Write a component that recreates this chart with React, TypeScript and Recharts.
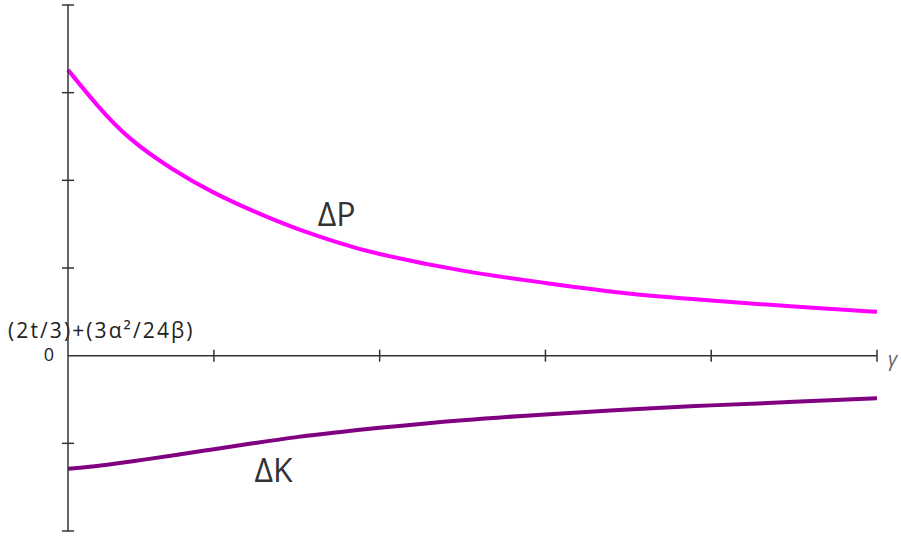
import { LineChart, Line, XAxis, YAxis, ReferenceLine, ReferenceDot, Label } from "recharts";

// gamma values (x) and the two curves
const gammaP = [0.12, 0.3, 0.5, 0.75, 1.0, 1.25, 1.5, 1.75, 2, 2.5, 3, 3.5, 4, 4.5, 5];
const deltaP = [3.26, 2.85, 2.47, 2.13, 1.86, 1.64, 1.45, 1.29, 1.16, 0.97, 0.83, 0.71, 0.63, 0.56, 0.5];
const gammaK = [0.12, 0.25, 0.4, 0.5, 0.6, 0.75, 1.0, 1.25, 1.5, 1.75, 2, 2.5, 3, 3.5, 4, 4.5, 5];
const deltaK = [-1.29, -1.266, -1.232, -1.207, -1.18, -1.139, -1.067, -0.996, -0.929, -0.873, -0.823, -0.737, -0.67, -0.614, -0.567, -0.527, -0.485];
const xTicks = [1, 2, 3, 4, 5];
const yTicks = [-2, -1, 0, 1, 2, 3, 4];

const dataP = gammaP.map((g, i) => ({ g, v: deltaP[i] }));
const dataK = gammaK.map((g, i) => ({ g, v: deltaK[i] }));

const FONT = "'Open Sans', sans-serif";
const AXIS = "#333";

const YTick = ({ x, y, payload }: { x?: number; y?: number; payload?: { value: number } }) => {
  if (x === undefined || y === undefined || !payload) return null;
  const ax = x + 8; // axis line position
  return (
    <g>
      {payload.value !== 0 && <line x1={ax - 6} x2={ax + 6} y1={y} y2={y} stroke={AXIS} strokeWidth={1.5} />}
      {payload.value === 0 && (
        <text x={ax - 14} y={y + 1} textAnchor="end" dominantBaseline="middle" fontSize={18} fontFamily={FONT} fill="#222">
          0
        </text>
      )}
    </g>
  );
};

const xTickShape = (p: { cx?: number; cy?: number }) => {
  if (p.cx === undefined || p.cy === undefined) return <g />;
  return <line x1={p.cx} x2={p.cx} y1={p.cy - 6} y2={p.cy + 6} stroke={AXIS} strokeWidth={1.5} />;
};

export default function App() {
  return (
    <div style={{ position: "absolute", left: 0, top: 0, background: "#fff" }}>
      <LineChart width={901} height={536} margin={{ top: 5, right: 24, bottom: 5, left: 8 }}>
        <XAxis dataKey="g" type="number" domain={[0.12, 5]} ticks={xTicks} hide allowDuplicatedCategory={false} />
        <YAxis
          type="number"
          domain={[-2, 4]}
          ticks={yTicks}
          width={60}
          axisLine={{ stroke: AXIS, strokeWidth: 1.5 }}
          tickLine={false}
          tick={<YTick />}
          interval={0}
        />

        <ReferenceLine
          y={0}
          stroke={AXIS}
          strokeWidth={1.5}
          label={(props: { viewBox?: { x: number; y: number } }) => {
            const vb = props.viewBox;
            if (!vb) return null;
            return (
              <text
                x={vb.x - 60}
                y={vb.y - 23}
                dominantBaseline="middle"
                fontSize={21}
                letterSpacing={2.1}
                fontFamily={FONT}
                fill="#222"
              >
                (2t/3)+(3α²/24β)
              </text>
            );
          }}
        />
        {xTicks.map((t) => (
          <ReferenceDot key={t} x={t} y={0} r={6} shape={xTickShape} />
        ))}
        <ReferenceDot x={5} y={0} r={0} fill="none" stroke="none">
          <Label value="γ" position="right" offset={11} dy={3} fontSize={20} fontStyle="italic" fontFamily={FONT} fill="#666" />
        </ReferenceDot>

        <Line data={dataP} type="natural" dataKey="v" stroke="#ff00ff" strokeWidth={4} dot={false} isAnimationActive={false} />
        <Line data={dataK} type="natural" dataKey="v" stroke="#800080" strokeWidth={4} dot={false} isAnimationActive={false} />

        <ReferenceDot x={1.74} y={1.61} r={0} fill="none" stroke="none">
          <Label value="ΔP" position="center" fontSize={32} fontFamily={FONT} fill="#333" />
        </ReferenceDot>
        <ReferenceDot x={1.36} y={-1.31} r={0} fill="none" stroke="none">
          <Label value="ΔK" position="center" fontSize={32} fontFamily={FONT} fill="#333" />
        </ReferenceDot>
      </LineChart>
    </div>
  );
}
